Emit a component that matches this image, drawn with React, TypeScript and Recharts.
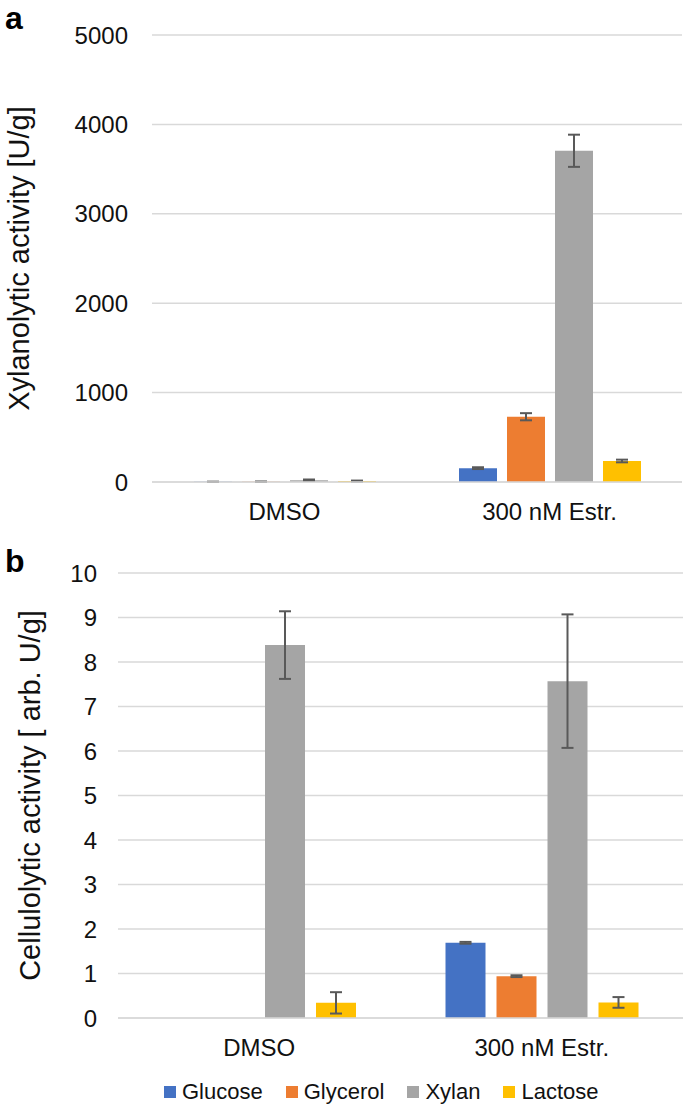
import React from 'react';
import { BarChart, Bar, XAxis, YAxis, CartesianGrid, ErrorBar } from 'recharts';

const categories = ['DMSO', '300 nM Estr.'];
const seriesNames = ['Glucose', 'Glycerol', 'Xylan', 'Lactose'];
const seriesColors = ['#4472C4', '#ED7D31', '#A5A5A5', '#FFC000'];

// panel a: xylanolytic activity [U/g]
const xylGlucose = [2, 155];
const xylGlycerol = [3, 730];
const xylXylan = [20, 3705];
const xylLactose = [10, 235];
const xylGlucoseErr = [2, 10];
const xylGlycerolErr = [3, 40];
const xylXylanErr = [8, 180];
const xylLactoseErr = [6, 15];
const xylTicks = [0, 1000, 2000, 3000, 4000, 5000];

// panel b: cellulolytic activity [arb. U/g]
const celGlucose = [0, 1.69];
const celGlycerol = [0, 0.94];
const celXylan = [8.38, 7.57];
const celLactose = [0.34, 0.35];
const celGlucoseErr = [0, 0.02];
const celGlycerolErr = [0, 0.02];
const celXylanErr = [0.76, 1.5];
const celLactoseErr = [0.24, 0.12];
const celTicks = [0, 1, 2, 3, 4, 5, 6, 7, 8, 9, 10];

const FONT = '"Liberation Sans", Arial, sans-serif';

const buildRows = (vals: number[][], errs: number[][]) =>
  categories.map((name, i) => {
    const row: Record<string, number | string> = { name };
    seriesNames.forEach((s, j) => {
      row[s] = vals[j][i];
      row[s + 'Err'] = errs[j][i];
    });
    return row;
  });

const xylData = buildRows(
  [xylGlucose, xylGlycerol, xylXylan, xylLactose],
  [xylGlucoseErr, xylGlycerolErr, xylXylanErr, xylLactoseErr]
);
const celData = buildRows(
  [celGlucose, celGlycerol, celXylan, celLactose],
  [celGlucoseErr, celGlycerolErr, celXylanErr, celLactoseErr]
);

const axisTitle = (text: string, cx: number) => (props: any) => {
  const vb = props.viewBox || {};
  const cy = vb.y + vb.height / 2;
  return (
    <text
      x={cx}
      y={cy}
      transform={`rotate(-90 ${cx} ${cy})`}
      textAnchor="middle"
      dominantBaseline="central"
      fontSize={29}
      fontFamily={FONT}
      fill="#111"
    >
      {text}
    </text>
  );
};

type PanelProps = {
  data: any[];
  ticks: number[];
  height: number;
  margin: { top: number; right: number; bottom: number; left: number };
  yWidth: number;
  tickMargin: number;
  barSize: number;
  barGap: number;
  title: string;
  titleX: number;
};

const Panel: React.FC<PanelProps> = ({ data, ticks, height, margin, yWidth, tickMargin, barSize, barGap, title, titleX }) => (
  <BarChart width={685} height={height} data={data} margin={margin} barSize={barSize} barGap={barGap}>
    <CartesianGrid vertical={false} stroke="#D9D9D9" strokeWidth={1.5} />
    <XAxis
      dataKey="name"
      height={30}
      axisLine={{ stroke: '#D9D9D9', strokeWidth: 1.5 }}
      tickLine={false}
      tickSize={0}
      tickMargin={21}
      tick={{ fontSize: 24, fill: '#111', fontFamily: FONT }}
    />
    <YAxis
      width={yWidth}
      domain={[0, ticks[ticks.length - 1]]}
      ticks={ticks}
      interval={0}
      axisLine={false}
      tickLine={false}
      tickSize={0}
      tickMargin={tickMargin}
      tick={{ fontSize: 24, fill: '#111', fontFamily: FONT }}
      label={{ content: axisTitle(title, titleX) }}
    />
    {seriesNames.map((s, i) => (
      <Bar key={s} dataKey={s} fill={seriesColors[i]} isAnimationActive={false}>
        <ErrorBar dataKey={s + 'Err'} width={6} stroke="#595959" strokeWidth={2} />
      </Bar>
    ))}
  </BarChart>
);

const App: React.FC = () => {
  return (
    <div style={{ position: 'absolute', left: 0, top: 0, width: 685, height: 1111, background: '#fff', fontFamily: FONT }}>
      <div style={{ position: 'absolute', left: 5, top: 0, fontSize: 32, lineHeight: '37px', fontWeight: 'bold', color: '#000' }}>a</div>
      <div style={{ position: 'absolute', left: 5, top: 543, fontSize: 32, lineHeight: '37px', fontWeight: 'bold', color: '#000' }}>b</div>

      <div style={{ position: 'absolute', left: 0, top: 0 }}>
        <Panel
          data={xylData}
          ticks={xylTicks}
          height={540}
          margin={{ top: 35, right: 3, bottom: 28, left: 0 }}
          yWidth={152}
          tickMargin={24}
          barSize={38}
          barGap={10}
          title="Xylanolytic activity [U/g]"
          titleX={19}
        />
      </div>

      <div style={{ position: 'absolute', left: 0, top: 540 }}>
        <Panel
          data={celData}
          ticks={celTicks}
          height={571}
          margin={{ top: 33, right: 2, bottom: 63, left: 0 }}
          yWidth={118}
          tickMargin={21}
          barSize={40}
          barGap={11}
          title="Cellulolytic activity [ arb. U/g]"
          titleX={30}
        />
      </div>

      <div style={{ position: 'absolute', left: 164, top: 1079, display: 'flex', alignItems: 'center', fontSize: 22, color: '#111' }}>
        {seriesNames.map((s, i) => (
          <div key={s} style={{ display: 'flex', alignItems: 'center', marginRight: 23 }}>
            <span style={{ display: 'inline-block', width: 12, height: 12, background: seriesColors[i], marginRight: 6 }} />
            <span>{s}</span>
          </div>
        ))}
      </div>
    </div>
  );
};

export default App;
